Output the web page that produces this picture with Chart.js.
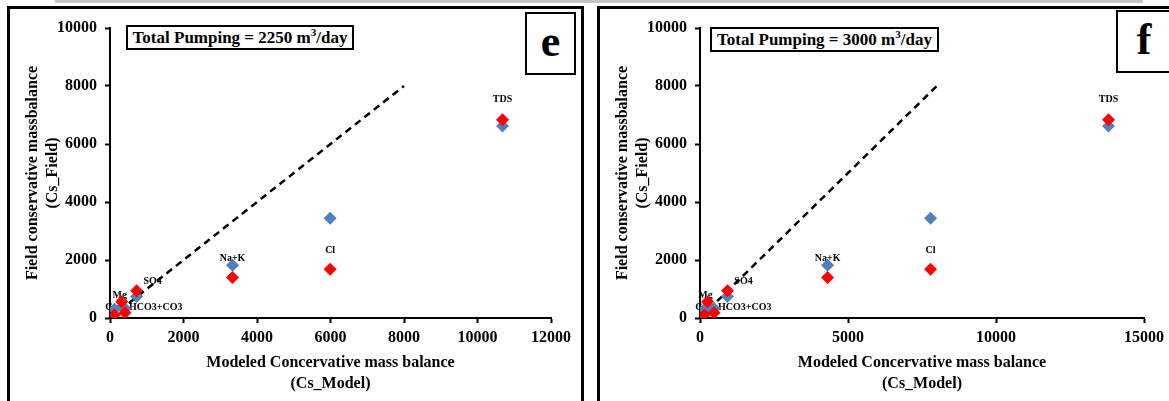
<!DOCTYPE html>
<html>
<head>
<meta charset="utf-8">
<script src="https://cdn.jsdelivr.net/npm/chart.js@4.4.0/dist/chart.umd.min.js"></script>
<style>
    body { margin: 0; background: #fff; width: 1169px; height: 401px; overflow: hidden; position: relative; font-family: 'Liberation Serif', serif; }
    .topbar { position: absolute; left: 55px; top: 0; width: 1088px; height: 3px; background: #c4c4c4; }
    .frame { position: absolute; border: 3px solid #000; border-bottom: none; }
    #frameE { left: 7px; top: 6px; width: 571px; height: 400px; }
    #frameF { left: 597px; top: 6px; width: 600px; height: 400px; border-right: none; }
    canvas { position: absolute; top: 0; }
    .title { position: absolute; border: 2px solid #000; background: #fff; font-weight: bold; font-size: 17px; line-height: 21px; text-align: center; white-space: nowrap; }
    .title sup { font-size: 11px; line-height: 0; }
    .tag { position: absolute; border: 2px solid #000; background: #fff; font-weight: bold; font-size: 44px; line-height: 56px; text-align: center; }
</style>
</head>
<body>
<div class="topbar"></div>
<div class="frame" id="frameE"></div>
<div class="frame" id="frameF"></div>
<canvas id="chartE" width="590" height="401" style="left:0"></canvas>
<canvas id="chartF" width="579" height="401" style="left:590px"></canvas>
<div class="title" style="left:126px; top:25px; width:224px; height:21px;">Total Pumping = 2250 m<sup>3</sup>/day</div>
<div class="title" style="left:710px; top:27px; width:225px; height:21px;">Total Pumping = 3000 m<sup>3</sup>/day</div>
<div class="tag" style="left:525px; top:12px; width:47px; height:59px;">e</div>
<div class="tag" style="left:1116px; top:10px; width:52px; height:59px;">f</div>
<script>
// ===== Datos =====
const ions = ['Ca', 'Mg', 'Na+K', 'Cl', 'SO4', 'HCO3+CO3', 'TDS'];
const fieldBlue = [300, 380, 1820, 3440, 740, 330, 6620];
const fieldRed = [100, 560, 1400, 1680, 940, 180, 6840];
const modelE = [120, 318, 3334, 5990, 725, 408, 10680];
const modelF = [150, 255, 4310, 7790, 929, 476, 13800];
const oneToOneX = [0, 8000];
const oneToOneY = [0, 8000];

// posición de etiquetas (px respecto al punto rojo)
const labelPos = {
    'Ca': [-3, -8, 'center'],
    'Mg': [-2, -6, 'center'],
    'Na+K': [0, -19, 'center'],
    'Cl': [0, -19, 'center'],
    'SO4': [16, -9, 'center'],
    'HCO3+CO3': [4, -5, 'left'],
    'TDS': [0, -20, 'center']
};

const serif = "'Liberation Serif', 'Times New Roman', serif";
const blueColor = '#4F81BD';
const redColor = '#FF0000';

const pointLabels = {
    id: 'pointLabels',
    beforeDatasetsDraw(chart) {
        const ctx = chart.ctx;
        const meta = chart.getDatasetMeta(0);
        ctx.save();
        ctx.font = 'bold 10px ' + serif;
        ctx.fillStyle = '#000';
        ctx.textBaseline = 'middle';
        ions.forEach((name, i) => {
            const pt = meta.data[i];
            const [dx, dy, align] = labelPos[name];
            ctx.textAlign = align;
            ctx.fillText(name, pt.x + dx, pt.y + dy);
        });
        ctx.restore();
    }
};

function makePanel(canvasId, modelX, xMax, xStep, padRight) {
    const pts = ys => ys.map((y, i) => ({ x: modelX[i], y: y }));
    const tickFont = { family: serif, size: 16, weight: 'bold' };
    const titleFont = { family: serif, size: 16, weight: 'bold', lineHeight: 1.3 };

    return new Chart(document.getElementById(canvasId), {
        type: 'scatter',
        data: {
            datasets: [
                {
                    label: 'Field (red)',
                    data: pts(fieldRed),
                    backgroundColor: redColor,
                    pointStyle: 'rectRot',
                    pointRadius: 6.5,
                    borderWidth: 0,
                    order: 1
                },
                {
                    label: 'Field (blue)',
                    data: pts(fieldBlue),
                    backgroundColor: blueColor,
                    pointStyle: 'rectRot',
                    pointRadius: 6.5,
                    borderWidth: 0,
                    order: 2
                },
                {
                    type: 'line',
                    label: '1:1',
                    data: oneToOneX.map((x, i) => ({ x: x, y: oneToOneY[i] })),
                    borderColor: '#000',
                    borderWidth: 2.5,
                    borderDash: [7, 5],
                    pointRadius: 0,
                    fill: false,
                    order: 3
                }
            ]
        },
        options: {
            responsive: false,
            animation: false,
            layout: { padding: { left: 0, top: 28, right: padRight, bottom: 0 } },
            plugins: {
                legend: { display: false },
                tooltip: { enabled: false }
            },
            scales: {
                x: {
                    type: 'linear',
                    min: 0,
                    max: xMax,
                    ticks: {
                        stepSize: xStep,
                        color: '#000',
                        font: tickFont,
                        padding: 5,
                        maxRotation: 0,
                        callback: v => String(v)
                    },
                    border: { color: '#000', width: 2 },
                    grid: { drawOnChartArea: false, color: '#000', tickLength: 5, tickWidth: 2 },
                    title: {
                        display: true,
                        text: ['Modeled Concervative mass balance', '(Cs_Model)'],
                        color: '#000',
                        font: titleFont,
                        padding: { top: 0, bottom: 7 }
                    },
                    afterFit: s => { s.height = 83; }
                },
                y: {
                    min: 0,
                    max: 10000,
                    ticks: {
                        stepSize: 2000,
                        color: '#000',
                        font: tickFont,
                        padding: 8,
                        callback: v => String(v)
                    },
                    border: { color: '#000', width: 2 },
                    grid: { drawOnChartArea: false, color: '#000', tickLength: 5, tickWidth: 2 },
                    title: {
                        display: true,
                        text: ['Field conservative massbalance', '(Cs_Field)'],
                        color: '#000',
                        font: titleFont,
                        padding: { top: 22, bottom: 0 }
                    },
                    afterFit: s => { s.width = 110; }
                }
            }
        },
        plugins: [pointLabels]
    });
}

makePanel('chartE', modelE, 12000, 2000, 39);
makePanel('chartF', modelF, 15000, 5000, 25);
</script>
</body>
</html>
